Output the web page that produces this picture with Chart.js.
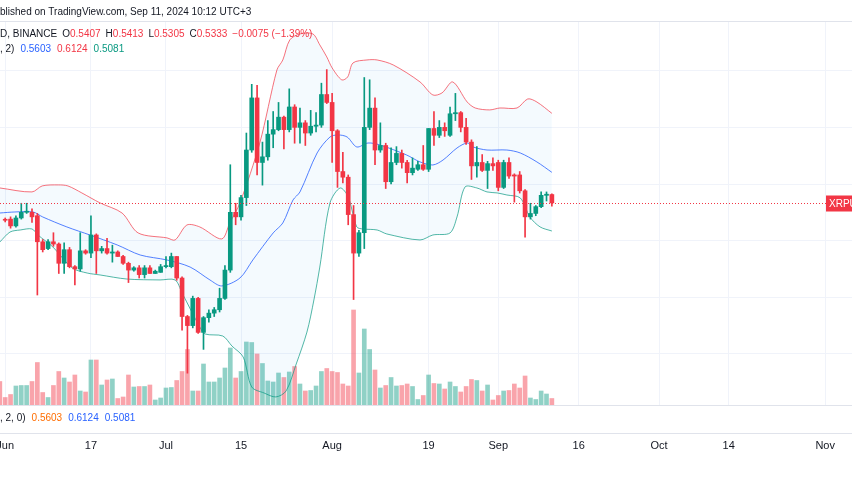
<!DOCTYPE html>
<html><head><meta charset="utf-8">
<script src="https://cdn.jsdelivr.net/npm/chart.js@4.4.1/dist/chart.umd.min.js"></script>
<style>html,body{margin:0;padding:0;background:#fff}#w{width:852px;height:485px}</style>
</head><body><div id="w"><canvas id="c" width="852" height="485"></canvas></div>
<script>
// day index 0 = Jun 1, 2024
const opens=[0.5185,0.519,0.513,0.520,0.525,0.525,0.522,0.499,0.493,0.499,
0.497,0.480,0.492,0.477,0.475,0.491,0.489,0.505,0.491,0.493,
0.489,0.490,0.486,0.480,0.474,0.476,0.470,0.476,0.471,0.472,
0.477,0.477,0.486,0.467,0.433,0.425,0.449,0.419,0.432,0.436,
0.439,0.449,0.474,0.525,0.521,0.538,0.580,0.626,0.569,0.574,
0.594,0.598,0.609,0.598,0.618,0.600,0.604,0.595,0.601,0.602,
0.629,0.622,0.597,0.561,0.556,0.523,0.489,0.507,0.600,0.617,
0.580,0.584,0.552,0.569,0.577,0.569,0.560,0.563,0.567,0.563,
0.599,0.593,0.600,0.593,0.612,0.613,0.600,0.587,0.566,0.569,
0.562,0.568,0.569,0.547,0.569,0.558,0.558,0.544,0.521,0.524,
0.530,0.540,0.5407];
const highs=[0.520,0.521,0.522,0.533,0.533,0.528,0.524,0.501,0.501,0.507,
0.498,0.498,0.494,0.478,0.507,0.492,0.522,0.506,0.495,0.502,
0.496,0.491,0.487,0.481,0.477,0.478,0.478,0.478,0.474,0.479,
0.486,0.489,0.486,0.468,0.434,0.451,0.450,0.433,0.439,0.441,
0.458,0.478,0.567,0.533,0.540,0.595,0.638,0.637,0.587,0.606,
0.614,0.622,0.610,0.634,0.620,0.617,0.606,0.615,0.613,0.639,
0.651,0.630,0.598,0.578,0.558,0.531,0.509,0.644,0.642,0.626,
0.604,0.586,0.582,0.583,0.580,0.571,0.573,0.570,0.584,0.599,
0.614,0.606,0.604,0.618,0.630,0.614,0.608,0.589,0.583,0.576,
0.570,0.573,0.571,0.571,0.573,0.559,0.561,0.545,0.533,0.531,
0.543,0.543,0.5413];
const lows=[0.5165,0.511,0.512,0.519,0.524,0.516,0.452,0.490,0.492,0.495,
0.471,0.471,0.476,0.461,0.473,0.488,0.485,0.471,0.489,0.488,
0.481,0.486,0.479,0.463,0.473,0.467,0.467,0.471,0.471,0.472,
0.476,0.476,0.465,0.421,0.383,0.423,0.418,0.404,0.428,0.433,
0.437,0.448,0.472,0.514,0.518,0.531,0.578,0.558,0.549,0.571,
0.582,0.597,0.581,0.596,0.586,0.586,0.584,0.593,0.596,0.600,
0.621,0.569,0.547,0.551,0.514,0.448,0.486,0.493,0.598,0.567,
0.578,0.546,0.550,0.567,0.564,0.551,0.558,0.562,0.562,0.561,
0.584,0.591,0.592,0.592,0.606,0.596,0.585,0.554,0.556,0.561,
0.546,0.562,0.544,0.546,0.555,0.534,0.542,0.503,0.519,0.522,
0.529,0.535,0.5305];
const closes=[0.518,0.513,0.520,0.525,0.526,0.521,0.499,0.492,0.499,0.497,
0.480,0.492,0.477,0.475,0.491,0.489,0.505,0.491,0.493,0.489,
0.490,0.486,0.480,0.474,0.476,0.470,0.476,0.471,0.473,0.477,
0.478,0.486,0.467,0.433,0.425,0.449,0.419,0.432,0.436,0.439,
0.449,0.474,0.525,0.521,0.538,0.580,0.626,0.569,0.574,0.594,
0.598,0.609,0.598,0.618,0.600,0.604,0.595,0.601,0.602,0.629,
0.622,0.597,0.561,0.556,0.523,0.489,0.507,0.600,0.617,0.580,
0.584,0.552,0.569,0.577,0.569,0.560,0.564,0.567,0.563,0.599,
0.593,0.600,0.597,0.612,0.613,0.600,0.587,0.566,0.569,0.562,
0.568,0.566,0.547,0.569,0.557,0.557,0.544,0.521,0.524,0.530,
0.540,0.541,0.5333];
// volumes from May 31 (index -1), millions
const volumes=[47,15,21,38,39,39,47,85,25,15,
39,67,54,46,60,28,26,90,90,40,
50,52,13,16,60,36,37,37,40,10,
14,34,35,49,67,111,28,28,82,46,
46,54,74,114,54,67,126,125,102,83,
48,46,64,55,66,77,42,28,29,38,
67,73,67,65,42,38,190,64,152,111,
70,34,39,55,38,39,42,37,11,19,
60,43,42,32,46,37,26,37,51,49,
28,40,10,19,28,29,42,34,58,14,
11,28,22,13];
// Bollinger bands: [day, value]
const bbUpper=[[-1,0.5465],[5,0.5430],[6.9,0.5483],[9.9,0.5492],[11.7,0.5483],[14.3,0.5421],[17.7,0.5333],[21.8,0.5244],[24.8,0.5068],[30.2,0.5024],[31.7,0.5006],[33.9,0.5138],[36.3,0.5121],[40.4,0.5015],[41.9,0.5156],[43.8,0.5333],[47.5,0.5862],[50.7,0.6507],[51.8,0.6595],[53.1,0.6772],[55,0.6825],[57.4,0.6825],[58.7,0.6728],[60,0.6622],[61,0.6525],[62.8,0.6419],[63.9,0.6445],[64.9,0.6569],[67.5,0.6595],[69.4,0.6595],[72.4,0.6551],[77.4,0.6401],[79.8,0.6286],[81.5,0.6304],[83.5,0.6401],[86.2,0.6224],[87.7,0.6171],[90.4,0.6154],[92.3,0.6171],[95.5,0.6171],[97.5,0.6251],[99.2,0.6224],[102,0.6124]];
const bbBasis=[[-1,0.5244],[1.8,0.5253],[5.2,0.5253],[7,0.5209],[11.5,0.5121],[15.8,0.5050],[20.9,0.4962],[25.2,0.4873],[30.2,0.4829],[34.5,0.4767],[38.2,0.4653],[40.4,0.4600],[43.8,0.4670],[46.2,0.4829],[50,0.5068],[51.8,0.5156],[53.7,0.5359],[55,0.5430],[58.2,0.5774],[60.6,0.5915],[62.1,0.5933],[63.8,0.5915],[65.6,0.5827],[67.7,0.5862],[69.9,0.5845],[74.9,0.5756],[77.4,0.5695],[79.8,0.5668],[81.7,0.5712],[84.3,0.5818],[86.2,0.5862],[87.3,0.5827],[89.9,0.5800],[93.6,0.5800],[96.1,0.5774],[99.2,0.5695],[102,0.5603]];
const bbLower=[[-1,0.4988],[0.9,0.5076],[2.8,0.5094],[5,0.5103],[6.1,0.5050],[8.9,0.4944],[12.5,0.4759],[15.3,0.4714],[17.7,0.4697],[22.7,0.4661],[28.9,0.4653],[31.7,0.4653],[33,0.4538],[36.3,0.4238],[37.3,0.4176],[40.6,0.4158],[42.3,0.4070],[44.4,0.3973],[46,0.3708],[48.3,0.3655],[50.5,0.3620],[52.4,0.3672],[54.3,0.3911],[56.3,0.4193],[57.6,0.4476],[58.7,0.4767],[60.6,0.5333],[62.5,0.5465],[64,0.5386],[65.6,0.5121],[66.8,0.5103],[69.4,0.5094],[71.2,0.5059],[77.4,0.5006],[79.8,0.5050],[83,0.5068],[84.3,0.5209],[85.8,0.5474],[88,0.5465],[89.9,0.5430],[91.8,0.5421],[93.6,0.5403],[96.1,0.5377],[97.9,0.5209],[99.8,0.5121],[102,0.5085]];
const tickDays=[0,16,30,44,61,79,92,107,122,135,153];
const tickLabels=['Jun','17','Jul','15','Aug','19','Sep','16','Oct','14','Nov'];
const priceTicks=[0.40,0.45,0.50,0.55,0.60,0.65];
const lastPrice=0.5333;

const UP='#089981',DN='#f23645';
const dirs=opens.map((o,i)=>closes[i]>=o);
const wicks=opens.map((o,i)=>({x:i,y:[lows[i],highs[i]]}));
const bodies=opens.map((o,i)=>({x:i,y:[Math.min(o,closes[i]),Math.max(o,closes[i])]}));
const cCol=dirs.map(d=>d?UP:DN);
const vData=volumes.map((v,k)=>({x:k-1,y:v}));
const vCol=volumes.map((v,k)=>{const d=k===0?false:dirs[k-1];return d?'rgba(8,153,129,0.45)':'rgba(242,54,69,0.45)';});
const pts=a=>a.map(p=>({x:p[0],y:p[1]}));
const FONT='"Liberation Sans", Arial, sans-serif';

const deco={id:'deco',
 afterDraw(ch){const c=ch.ctx,xs=ch.scales.x,ys=ch.scales.y;
  c.save();
  c.strokeStyle='#e0e3eb';c.lineWidth=1;
  [21.5,405.5,433.5].forEach(y=>{c.beginPath();c.moveTo(0,y);c.lineTo(852,y);c.stroke();});
  const py=Math.round(ys.getPixelForValue(lastPrice))+0.5;
  c.strokeStyle=DN;c.setLineDash([1,2]);c.beginPath();c.moveTo(0,py);c.lineTo(826,py);c.stroke();c.setLineDash([]);
  c.fillStyle=DN;c.fillRect(826,py-8,30,16);
  c.fillStyle='#fff';c.font='10px '+FONT;c.textBaseline='middle';c.fillText('XRPU',829,py+0.5);
  c.textBaseline='middle';c.font='10px '+FONT;
  c.fillStyle='#131722';c.fillText('blished on TradingView.com, Sep 11, 2024 10:12 UTC+3',0,12);
  // sequential rows: [text, color, gapAfter]
  const row=(items,y)=>{let x=0;items.forEach(t=>{c.fillStyle=t[1];c.fillText(t[0],x,y);x+=c.measureText(t[0]).width+t[2];});};
  row([['D, BINANCE','#131722',5],['O','#131722',0],['0.5407',DN,5],['H','#131722',0],['0.5413',DN,5],['L','#131722',0],['0.5305',DN,5],['C','#131722',0],['0.5333',DN,5],['\u22120.0075 (\u22121.39%)',DN,0]],34);
  row([[', 2)','#131722',6],['0.5603','#2962ff',6],['0.6124',DN,6],['0.5081',UP,0]],49);
  row([[', 2, 0)','#131722',6],['0.5603','#ff6d00',6],['0.6124','#2962ff',6],['0.5081','#2962ff',0]],418);
  c.font='11px '+FONT;c.textAlign='center';c.fillStyle='#131722';
  tickDays.forEach((d,k)=>c.fillText(tickLabels[k],xs.getPixelForValue(d),446));
  c.restore();}};

new Chart(document.getElementById('c'),{
 type:'bar',
 data:{datasets:[
  {type:'line',data:pts(bbUpper),borderColor:'rgba(242,54,69,0.7)',borderWidth:1,pointRadius:0,tension:0.3,fill:{target:2},backgroundColor:'rgba(33,150,243,0.05)',order:5},
  {type:'line',data:pts(bbBasis),borderColor:'rgba(41,98,255,0.8)',borderWidth:1,pointRadius:0,tension:0.3,fill:false,order:4},
  {type:'line',data:pts(bbLower),borderColor:'rgba(8,153,129,0.7)',borderWidth:1,pointRadius:0,tension:0.3,fill:false,order:4},
  {data:vData,yAxisID:'yv',backgroundColor:vCol,barThickness:4,grouped:false,order:6},
  {data:wicks,backgroundColor:cCol,barThickness:1,grouped:false,order:2},
  {data:bodies,backgroundColor:cCol,barThickness:4,grouped:false,minBarLength:1,order:1}
 ]},
 options:{responsive:false,animation:false,devicePixelRatio:1,
  layout:{padding:{top:21,bottom:80,left:0,right:0}},
  plugins:{legend:{display:false},tooltip:{enabled:false}},
  scales:{
   x:{type:'linear',min:-0.97,max:158,offset:false,border:{display:false},ticks:{display:false},
      afterBuildTicks:s=>{s.ticks=tickDays.map(v=>({value:v}));},
      grid:{color:'#f0f3fa',drawTicks:false,offset:false}},
   y:{min:0.3549,max:0.6939,border:{display:false},ticks:{display:false},
      afterBuildTicks:s=>{s.ticks=priceTicks.map(v=>({value:v}));},
      grid:{color:'#f0f3fa',drawTicks:false}},
   yv:{min:0,max:768,display:false}
  }},
 plugins:[deco]});
</script></body></html>
